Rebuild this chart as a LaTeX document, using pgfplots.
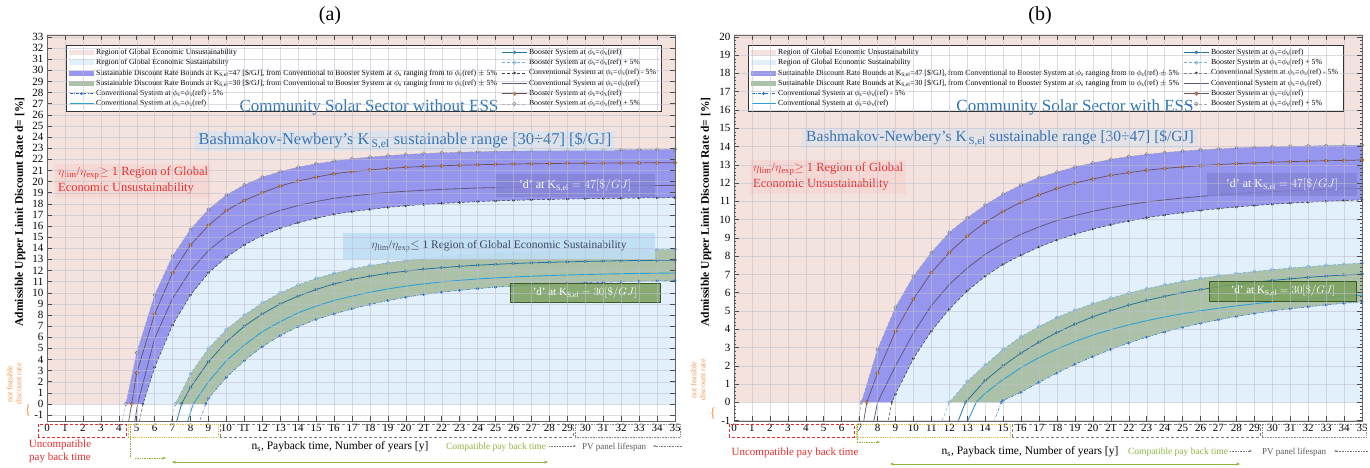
\documentclass[border=0pt]{standalone}
\usepackage{fontspec}
\setmainfont{Liberation Serif}
\usepackage{pgfplots}
\pgfplotsset{compat=1.18}
\usepackage{pgfplotstable}
\usepgfplotslibrary{fillbetween}
\usetikzlibrary{arrows.meta}

\definecolor{pinkreg}{RGB}{243,226,222}
\definecolor{bluereg}{RGB}{226,240,251}
\definecolor{band47}{RGB}{150,150,238}
\definecolor{band30}{RGB}{172,194,168}
\definecolor{c47up}{RGB}{160,160,170}
\definecolor{c47upm}{RGB}{120,120,130}
\definecolor{c47st}{RGB}{105,80,95}
\definecolor{c47stm}{RGB}{205,125,60}
\definecolor{c47stmd}{RGB}{120,70,40}
\definecolor{c47cv}{RGB}{95,90,125}
\definecolor{c47lo}{RGB}{55,55,70}
\definecolor{c30up}{RGB}{110,170,220}
\definecolor{c30st}{RGB}{35,115,155}
\definecolor{c30stm}{RGB}{90,130,150}
\definecolor{c30cv}{RGB}{45,160,215}
\definecolor{c30lo}{RGB}{40,110,200}
\definecolor{solarblue}{RGB}{46,117,182}
\definecolor{bashblue}{RGB}{55,115,180}
\definecolor{bashbg}{RGB}{205,228,245}
\definecolor{redbox}{RGB}{246,214,210}
\definecolor{redtext}{RGB}{230,45,45}
\definecolor{box47}{RGB}{130,130,215}
\definecolor{sustbox}{RGB}{190,222,245}
\definecolor{susttext}{RGB}{60,70,95}
\definecolor{greenbox}{RGB}{122,160,92}
\definecolor{greenboxd}{RGB}{60,90,40}
\definecolor{compgreen}{RGB}{140,180,60}
\definecolor{yellowbox}{RGB}{225,190,70}
\definecolor{orangetext}{RGB}{240,150,80}
\definecolor{gridc}{RGB}{190,190,205}

% ---------- data: panel (a), K=47 ----------
\pgfplotstableread{
x y
4.15 -2
4.4 0
5 4.6
6 9.8
7 13.3
8 15.7
9 17.5
10 18.8
11 19.7
12 20.4
13 20.9
14 21.3
15 21.6
16 21.85
17 22.05
18 22.2
19 22.33
20 22.44
21 22.52
22 22.59
23 22.64
24 22.68
25 22.72
26 22.75
27 22.78
28 22.8
29 22.82
30 22.84
31 22.85
32 22.86
33 22.87
34 22.88
35 22.89
}\aAup
\pgfplotstableread{
x y
4.5 -2
4.72 0
5 2.8
6 8.1
7 11.8
8 14.3
9 16.05
10 17.4
11 18.3
12 19.0
13 19.6
14 20.05
15 20.4
16 20.7
17 20.9
18 21.05
19 21.18
20 21.28
21 21.36
22 21.42
23 21.47
24 21.51
25 21.55
26 21.58
27 21.6
28 21.62
29 21.64
30 21.65
31 21.66
32 21.67
33 21.68
34 21.69
35 21.7
}\aBst
\pgfplotstableread{
x y
4.85 -2
5.05 0
6 5.9
7 9.5
8 12.0
9 13.8
10 15.1
11 16.1
12 16.85
13 17.4
14 17.85
15 18.2
16 18.5
17 18.7
18 18.88
19 19.02
20 19.13
22 19.3
24 19.42
26 19.5
28 19.56
30 19.6
32 19.63
35 19.66
}\aCcv
\pgfplotstableread{
x y
5.1 -2
5.35 0
6 3.3
7 7.1
8 9.8
9 11.8
10 13.2
11 14.3
12 15.15
13 15.8
14 16.3
15 16.7
16 17.05
17 17.3
18 17.5
19 17.68
20 17.82
21 17.94
22 18.04
23 18.12
24 18.2
25 18.26
26 18.31
27 18.36
28 18.4
29 18.43
30 18.46
31 18.48
32 18.5
33 18.52
34 18.54
35 18.55
}\aDlo
% ---------- data: panel (a), K=30 ----------
\pgfplotstableread{
x y
6.85 -2
7.15 0
8 2.7
9 5.0
10 6.7
11 8.0
12 9.1
13 10.0
14 10.7
15 11.3
16 11.75
17 12.15
18 12.45
19 12.7
20 12.9
21 13.08
22 13.22
23 13.34
24 13.44
25 13.52
26 13.59
27 13.65
28 13.7
29 13.74
30 13.78
31 13.81
32 13.84
33 13.86
34 13.88
35 13.9
}\aEup
\pgfplotstableread{
x y
7.15 -2
7.5 0
8 1.5
9 3.8
10 5.6
11 7.0
12 8.1
13 9.0
14 9.7
15 10.3
16 10.8
17 11.2
18 11.5
19 11.75
20 11.95
21 12.12
22 12.26
23 12.38
24 12.48
25 12.56
26 12.63
27 12.69
28 12.74
29 12.78
30 12.82
31 12.85
32 12.88
33 12.9
34 12.92
35 12.94
}\aFst
\pgfplotstableread{
x y
7.75 -2
8.15 0
9 2.0
10 3.9
11 5.3
12 6.5
13 7.4
14 8.2
15 8.8
16 9.3
17 9.7
18 10.05
19 10.35
20 10.6
21 10.8
22 10.98
23 11.12
24 11.24
25 11.34
26 11.42
27 11.49
28 11.55
29 11.6
30 11.64
31 11.68
32 11.71
33 11.74
34 11.76
35 11.78
}\aGcv
\pgfplotstableread{
x y
8.4 -2
8.85 0
9 0.5
10 2.4
11 3.9
12 5.15
13 6.15
14 6.95
15 7.6
16 8.1
17 8.55
18 8.95
19 9.3
20 9.6
21 9.85
22 10.05
23 10.22
24 10.37
25 10.5
26 10.6
27 10.69
28 10.77
29 10.84
30 10.9
31 10.95
32 10.99
33 11.03
34 11.06
35 11.09
}\aHlo
% ---------- data: panel (b), K=47 ----------
\pgfplotstableread{
x y
6.85 -1.5
7.1 0
8 2.9
9 5.2
10 6.9
11 8.2
12 9.3
13 10.1
14 10.8
15 11.4
16 11.9
17 12.3
18 12.6
19 12.88
20 13.1
21 13.3
22 13.45
23 13.57
24 13.67
25 13.75
26 13.82
27 13.87
28 13.92
29 13.96
30 13.99
31 14.01
32 14.03
33 14.05
34 14.06
35 14.07
}\bAup
\pgfplotstableread{
x y
7.15 -1.5
7.4 0
8 1.6
9 3.9
10 5.65
11 7.1
12 8.2
13 9.1
14 9.85
15 10.45
16 10.95
17 11.35
18 11.7
19 12.0
20 12.22
21 12.42
22 12.57
23 12.7
24 12.8
25 12.88
26 12.95
27 13.01
28 13.06
29 13.1
30 13.14
31 13.17
32 13.2
33 13.22
34 13.24
35 13.26
}\bBst
\pgfplotstableread{
x y
7.7 -1.5
8.0 0
9 2.0
10 3.8
11 5.3
12 6.45
13 7.35
14 8.1
15 8.7
16 9.2
17 9.6
18 9.95
19 10.22
20 10.45
21 10.65
22 10.82
23 10.96
24 11.08
25 11.18
26 11.27
27 11.35
28 11.42
29 11.48
30 11.53
31 11.58
32 11.62
33 11.66
34 11.69
35 11.72
}\bCcv
\pgfplotstableread{
x y
8.5 -1.5
8.8 0
9 0.45
10 2.4
11 3.9
12 5.1
13 6.1
14 6.9
15 7.55
16 8.05
17 8.5
18 8.88
19 9.2
20 9.48
21 9.72
22 9.92
23 10.1
24 10.25
25 10.38
26 10.5
27 10.6
28 10.69
29 10.77
30 10.84
31 10.9
32 10.95
33 11.0
34 11.04
35 11.08
}\bDlo
% ---------- data: panel (b), K=30 ----------
\pgfplotstableread{
x y
11.4 -1.5
12.0 0
13 1.15
14 2.05
15 2.9
16 3.6
17 4.15
18 4.65
19 5.05
20 5.4
21 5.7
22 5.98
23 6.22
24 6.43
25 6.62
26 6.78
27 6.93
28 7.05
29 7.16
30 7.26
31 7.35
32 7.43
33 7.5
34 7.56
35 7.62
}\bEup
\pgfplotstableread{
x y
12.3 -1.5
12.9 0
14 1.2
15 2.0
16 2.7
17 3.3
18 3.82
19 4.28
20 4.68
21 5.02
22 5.32
23 5.58
24 5.8
25 6.0
26 6.17
27 6.32
28 6.45
29 6.57
30 6.67
31 6.76
32 6.84
33 6.91
34 6.97
35 7.02
}\bFst
\pgfplotstableread{
x y
12.8 -1.5
13.5 0
14 0.5
15 1.25
16 1.9
17 2.45
18 2.92
19 3.33
20 3.68
21 3.98
22 4.24
23 4.47
24 4.67
25 4.85
26 5.01
27 5.15
28 5.28
29 5.39
30 5.49
31 5.58
32 5.66
33 5.73
34 5.8
35 5.86
}\bGcv
\pgfplotstableread{
x y
14.3 -1.5
14.9 0
15 0.1
16 0.55
17 1.1
18 1.6
19 2.08
20 2.5
21 2.9
22 3.25
23 3.57
24 3.85
25 4.1
26 4.32
27 4.52
28 4.7
29 4.86
30 5.0
31 5.12
32 5.23
33 5.33
34 5.42
35 5.5
}\bHlo

\pgfplotsset{
  s47up/.style={draw=c47up, line width=0.5pt, dash pattern=on 3pt off 2pt, mark=o, mark size=1.7pt, mark options={solid, draw=c47upm, fill=white, line width=0.5pt}},
  s47st/.style={solid, draw=c47st, line width=0.7pt, mark=*, mark size=1.8pt, mark options={solid, fill=c47stm, draw=c47stmd, line width=0.3pt}},
  s47cv/.style={solid, draw=c47cv, line width=0.8pt},
  s47lo/.style={draw=c47lo, line width=0.5pt, dash pattern=on 3pt off 2pt, mark=*, mark size=1.1pt, mark options={solid, fill=c47lo}},
  s30up/.style={draw=c30up, line width=0.5pt, dash pattern=on 3pt off 2pt, mark=o, mark size=1.7pt, mark options={solid, draw=c30up, fill=white, line width=0.5pt}},
  s30st/.style={solid, draw=c30st, line width=0.8pt, mark=*, mark size=1.6pt, mark options={solid, fill=c30stm, draw=c30st, line width=0.3pt}},
  s30cv/.style={solid, draw=c30cv, line width=0.9pt},
  s30lo/.style={draw=c30lo, line width=0.5pt, dash pattern=on 3pt off 1.5pt on 0.8pt off 1.5pt, mark=*, mark size=1.2pt, mark options={solid, fill=c30lo}},
  area47/.style={legend image code/.code={\fill[band47] (0cm,-0.07cm) rectangle (0.85cm,0.07cm);}},
  area30/.style={legend image code/.code={\fill[band30] (0cm,-0.07cm) rectangle (0.85cm,0.07cm);}},
  areapink/.style={legend image code/.code={\fill[pinkreg] (0cm,-0.07cm) rectangle (0.85cm,0.07cm);}},
  areablue/.style={legend image code/.code={\fill[bluereg] (0cm,-0.07cm) rectangle (0.85cm,0.07cm);}},
  myaxis/.style={
    scale only axis, width=628pt, height=386pt, anchor=south west,
    xmin=0, xmax=35, xtick={0,...,35},
    axis on top, clip=true,
    grid=major, major grid style={draw=gridc, draw opacity=0.55, line width=0.35pt},
    tick style={draw=black!70, line width=0.5pt},
    major tick length=5pt,
    tick label style={font=\fontsize{11}{11}\selectfont},
    /pgf/number format/assume math mode=true,
    axis line style={draw=black!60, line width=0.6pt},
    legend columns=6, transpose legend,
    legend cell align=left,
    legend style={font=\fontsize{7.8}{8}\selectfont, draw=black!80, line width=0.5pt, fill=white,
      at={(0.03,0.974)}, anchor=north west, row sep=0pt, inner xsep=3pt, inner ysep=2pt,
      nodes={inner ysep=1.6pt},
      /tikz/every even column/.append style={column sep=3pt}},
    legend image code/.code={\draw[mark repeat=2,mark phase=2,##1] plot coordinates {(0cm,0cm) (0.42cm,0cm) (0.85cm,0cm)};},
  },
}

\newcommand{\mylegend}{%
  \addlegendimage{areapink}
  \addlegendentry{Region of Global Economic Unsustainability}
  \addlegendimage{areablue}
  \addlegendentry{Region of Global Economic Sustainability}
  \addlegendimage{area47}
  \addlegendentry{Sustainable Discount Rate Bounds at K\textsubscript{S,el}=47 [\$/GJ], from Conventional to Booster System at $\phi$\textsubscript{s} ranging from to $\phi$\textsubscript{s}(ref) $\pm$ 5\%}
  \addlegendimage{area30}
  \addlegendentry{Sustainable Discount Rate Bounds at K\textsubscript{S,el}=30 [\$/GJ], from Conventional to Booster System at $\phi$\textsubscript{s} ranging from to $\phi$\textsubscript{s}(ref) $\pm$ 5\%}
  \addlegendimage{s30lo}
  \addlegendentry{Conventional System at $\phi$\textsubscript{s}=$\phi$\textsubscript{s}(ref) - 5\%}
  \addlegendimage{s30cv}
  \addlegendentry{Conventional System at $\phi$\textsubscript{s}=$\phi$\textsubscript{s}(ref)}
  \addlegendimage{s30st}
  \addlegendentry{Booster System at $\phi$\textsubscript{s}=$\phi$\textsubscript{s}(ref)}
  \addlegendimage{s30up}
  \addlegendentry{Booster System at $\phi$\textsubscript{s}=$\phi$\textsubscript{s}(ref) + 5\%}
  \addlegendimage{s47lo}
  \addlegendentry{Conventional System at $\phi$\textsubscript{s}=$\phi$\textsubscript{s}(ref) - 5\%}
  \addlegendimage{s47cv}
  \addlegendentry{Conventional System at $\phi$\textsubscript{s}=$\phi$\textsubscript{s}(ref)}
  \addlegendimage{s47st}
  \addlegendentry{Booster System at $\phi$\textsubscript{s}=$\phi$\textsubscript{s}(ref)}
  \addlegendimage{s47up}
  \addlegendentry{Booster System at $\phi$\textsubscript{s}=$\phi$\textsubscript{s}(ref) + 5\%}
}

\begin{document}
\begin{tikzpicture}

% ================= panel (a) =================
\begin{axis}[myaxis, at={(47pt,47pt)}, ymin=-1.53, ymax=33.18, ytick={-1,0,...,33}]
\addplot[draw=none, name path=aZ, forget plot] coordinates {(0,0) (35,0)};
\addplot[draw=none, name path=aT, forget plot] coordinates {(0,40) (35,40)};
\addplot[draw=none, name path=aA, forget plot] table {\aAup};
\addplot[draw=none, name path=aD, forget plot] table {\aDlo};
\addplot[draw=none, name path=aE, forget plot] table {\aEup};
\addplot[draw=none, name path=aH, forget plot] table {\aHlo};
\addplot[fill=pinkreg, draw=none, forget plot] fill between[of=aZ and aT];
\addplot[fill=bluereg, draw=none, forget plot] fill between[of=aA and aZ, soft clip={(axis cs:0,0) rectangle (axis cs:35,40)}];
\addplot[fill=band47, draw=none, forget plot] fill between[of=aA and aD, soft clip={(axis cs:0,0) rectangle (axis cs:35,40)}];
\addplot[fill=band30, draw=none, forget plot] fill between[of=aE and aH, soft clip={(axis cs:0,0) rectangle (axis cs:35,40)}];
\addplot[s30lo, forget plot] table {\aHlo};
\addplot[s30cv, forget plot] table {\aGcv};
\addplot[s30st, forget plot] table {\aFst};
\addplot[s30up, forget plot] table {\aEup};
\addplot[s47lo, forget plot] table {\aDlo};
\addplot[s47cv, forget plot] table {\aCcv};
\addplot[s47st, forget plot] table {\aBst};
\addplot[s47up, forget plot] table {\aAup};
\mylegend
\end{axis}

% ================= panel (b) =================
\begin{axis}[myaxis, at={(734pt,47pt)}, ymin=-1.02, ymax=20.1, ytick={-1,0,...,20}, minor y tick num=4, minor tick length=2pt,
  legend style={at={(0.022,0.974)}}]
\addplot[draw=none, name path=bZ, forget plot] coordinates {(0,0) (35,0)};
\addplot[draw=none, name path=bT, forget plot] coordinates {(0,40) (35,40)};
\addplot[draw=none, name path=bA, forget plot] table {\bAup};
\addplot[draw=none, name path=bD, forget plot] table {\bDlo};
\addplot[draw=none, name path=bE, forget plot] table {\bEup};
\addplot[draw=none, name path=bH, forget plot] table {\bHlo};
\addplot[fill=pinkreg, draw=none, forget plot] fill between[of=bZ and bT];
\addplot[fill=bluereg, draw=none, forget plot] fill between[of=bA and bZ, soft clip={(axis cs:0,0) rectangle (axis cs:35,40)}];
\addplot[fill=band47, draw=none, forget plot] fill between[of=bA and bD, soft clip={(axis cs:0,0) rectangle (axis cs:35,40)}];
\addplot[fill=band30, draw=none, forget plot] fill between[of=bE and bH, soft clip={(axis cs:0,0) rectangle (axis cs:35,40)}];
\addplot[s30lo, forget plot] table {\bHlo};
\addplot[s30cv, forget plot] table {\bGcv};
\addplot[s30st, forget plot] table {\bFst};
\addplot[s30up, forget plot] table {\bEup};
\addplot[s47lo, forget plot] table {\bDlo};
\addplot[s47cv, forget plot] table {\bCcv};
\addplot[s47st, forget plot] table {\bBst};
\addplot[s47up, forget plot] table {\bAup};
\mylegend
\end{axis}

% ================= annotations (a) =================
\node[font=\fontsize{20}{20}\selectfont] at (330pt,452pt) {(a)};
\node[rotate=90, font=\bfseries\fontsize{11.5}{11.5}\selectfont] at (20pt,256pt) {Admissible Upper Limit Discount Rate d= [\%]};
\node[font=\fontsize{17}{17}\selectfont, text=solarblue] at (369pt,361pt) {Community Solar Sector without ESS};
\node[font=\fontsize{16.5}{16.5}\selectfont, text=bashblue, fill=bashbg, fill opacity=0.6, text opacity=1, inner xsep=4pt, inner ysep=2pt] at (405pt,327pt) {Bashmakov-Newbery's K\textsubscript{\,S,el} sustainable range [30÷47] [\$/GJ]};
\node[anchor=north west, fill=redbox, fill opacity=0.85, text opacity=1, text=redtext, font=\fontsize{12.5}{16}\selectfont, align=left, inner sep=3pt] at (55pt,304pt) {$\eta$\textsubscript{lim}/$\eta$\textsubscript{exp}$\geq$ 1 Region of Global\\Economic Unsustainability};
\node[fill=box47, fill opacity=0.8, text opacity=1, text=white, font=\fontsize{12}{12}\selectfont, minimum width=160pt, minimum height=23pt] at (575pt,282pt) {'d' at K\textsubscript{S,el} $= 47[\$/GJ]$};
\node[fill=sustbox, fill opacity=0.9, text opacity=1, text=susttext, font=\fontsize{11.5}{11.5}\selectfont, minimum width=312pt, minimum height=26pt] at (499pt,222pt) {$\eta$\textsubscript{lim}/$\eta$\textsubscript{exp}$\leq$ 1 Region of Global Economic Sustainability};
\node[fill=greenbox, fill opacity=0.85, text opacity=1, draw=greenboxd, line width=0.7pt, text=white, font=\fontsize{11}{11}\selectfont, minimum width=150pt, minimum height=19pt] at (585pt,175pt) {'d' at K\textsubscript{S,el} $=30[\$/GJ]$};
\draw[redtext, densely dashed, line width=0.7pt] (38pt,31pt) rectangle (126pt,44pt);
\draw[yellowbox, densely dotted, line width=0.8pt] (128pt,31pt) rectangle (218pt,44pt);
\draw[black!50, densely dashed, line width=0.6pt] (220pt,31pt) rectangle (573pt,44pt);
\draw[black!45, densely dotted, line width=0.6pt] (575pt,31pt) rectangle (680pt,44pt);
\node[text=redtext, font=\fontsize{11}{13}\selectfont, align=center] at (60pt,17pt) {Uncompatible\\pay back time};
\draw[compgreen, densely dotted, line width=0.7pt] (130pt,44pt) -- (130pt,10pt);
\draw[compgreen, densely dotted, line width=0.7pt, -{Stealth[length=3.5pt]}] (135pt,10pt) -- (166pt,10pt);
\draw[compgreen, line width=0.6pt, {Stealth[length=4pt]}-{Stealth[length=4pt]}] (172pt,6pt) -- (548pt,6pt);
\node[font=\fontsize{11.5}{11.5}\selectfont] at (340pt,21pt) {n\textsubscript{s}, Payback time, Number of years [y]};
\node[text=compgreen, font=\fontsize{9.5}{9.5}\selectfont] at (496pt,21pt) {Compatible pay back time};
\draw[black!55, densely dotted, line width=0.6pt, -{Stealth[length=3pt]}] (549pt,22pt) -- (576pt,22pt);
\node[text=black!65, font=\fontsize{9}{9}\selectfont] at (614pt,21pt) {PV panel lifespan};
\draw[black!55, densely dotted, line width=0.6pt, -{Stealth[length=3pt]}] (682pt,22pt) -- (653pt,22pt);
\node[text=orangetext, rotate=90, align=center, font=\fontsize{8}{9}\selectfont] at (14pt,84pt) {not feasible\\discount rate};
\node[text=orangetext, font=\fontsize{14}{14}\selectfont] at (28pt,57pt) {\{};

% ================= annotations (b) =================
\node[font=\fontsize{20}{20}\selectfont] at (1040pt,452pt) {(b)};
\node[rotate=90, font=\bfseries\fontsize{11.5}{11.5}\selectfont] at (706pt,256pt) {Admissible Upper Limit Discount Rate d= [\%]};
\node[font=\fontsize{17}{17}\selectfont, text=solarblue] at (1075pt,361pt) {Community Solar Sector with ESS};
\node[font=\fontsize{15.5}{15.5}\selectfont, text=bashblue, fill=bashbg, fill opacity=0.4, text opacity=1, inner xsep=4pt, inner ysep=2pt] at (1000pt,330pt) {Bashmakov-Newbery's K\textsubscript{\,S,el} sustainable range [30÷47] [\$/GJ]};
\node[anchor=north west, fill=redbox, fill opacity=0.85, text opacity=1, text=redtext, font=\fontsize{12.5}{16}\selectfont, align=left, inner sep=3pt] at (750pt,308pt) {$\eta$\textsubscript{lim}/$\eta$\textsubscript{exp}$\geq$ 1 Region of Global\\Economic Unsustainability};
\node[fill=box47, fill opacity=0.8, text opacity=1, text=white, font=\fontsize{12}{12}\selectfont, minimum width=150pt, minimum height=23pt] at (1282pt,283pt) {'d' at K\textsubscript{S,el} $= 47[\$/GJ]$};
\node[fill=greenbox, fill opacity=0.85, text opacity=1, draw=greenboxd, line width=0.7pt, text=white, font=\fontsize{11}{11}\selectfont, minimum width=147pt, minimum height=20pt] at (1283pt,177pt) {'d' at K\textsubscript{S,el} $=30[\$/GJ]$};
\draw[redtext, densely dashed, line width=0.7pt] (729pt,31pt) rectangle (854pt,44pt);
\draw[yellowbox, densely dotted, line width=0.8pt] (856pt,31pt) rectangle (1010pt,44pt);
\draw[black!50, densely dashed, line width=0.6pt] (1012pt,31pt) rectangle (1260pt,44pt);
\draw[black!45, densely dotted, line width=0.6pt] (1262pt,31pt) rectangle (1366pt,44pt);
\node[text=redtext, font=\fontsize{11}{11}\selectfont] at (795pt,15pt) {Uncompatible pay back time};
\draw[compgreen, densely dotted, line width=0.7pt] (857pt,44pt) -- (857pt,26pt);
\draw[compgreen, densely dotted, line width=0.7pt, -{Stealth[length=3.5pt]}] (857pt,26pt) -- (880pt,26pt);
\draw[compgreen, line width=0.6pt, {Stealth[length=4pt]}-{Stealth[length=4pt]}] (890pt,4pt) -- (1240pt,4pt);
\node[font=\fontsize{11.5}{11.5}\selectfont] at (1030pt,16pt) {n\textsubscript{s}, Payback time, Number of years [y]};
\node[text=compgreen, font=\fontsize{9.5}{9.5}\selectfont] at (1178pt,16pt) {Compatible pay back time};
\draw[black!55, densely dotted, line width=0.6pt, -{Stealth[length=3pt]}] (1230pt,17pt) -- (1252pt,17pt);
\node[text=black!65, font=\fontsize{9}{9}\selectfont] at (1294pt,16pt) {PV panel lifespan};
\draw[black!55, densely dotted, line width=0.6pt, -{Stealth[length=3pt]}] (1368pt,17pt) -- (1334pt,17pt);
\node[text=orangetext, rotate=90, align=center, font=\fontsize{8}{9}\selectfont] at (698pt,88pt) {not feasible\\discount rate};
\node[text=orangetext, font=\fontsize{14}{14}\selectfont] at (713pt,54pt) {\{};

\pgfresetboundingbox
\path (0,0) rectangle (1370pt,468pt);
\end{tikzpicture}
\end{document}
